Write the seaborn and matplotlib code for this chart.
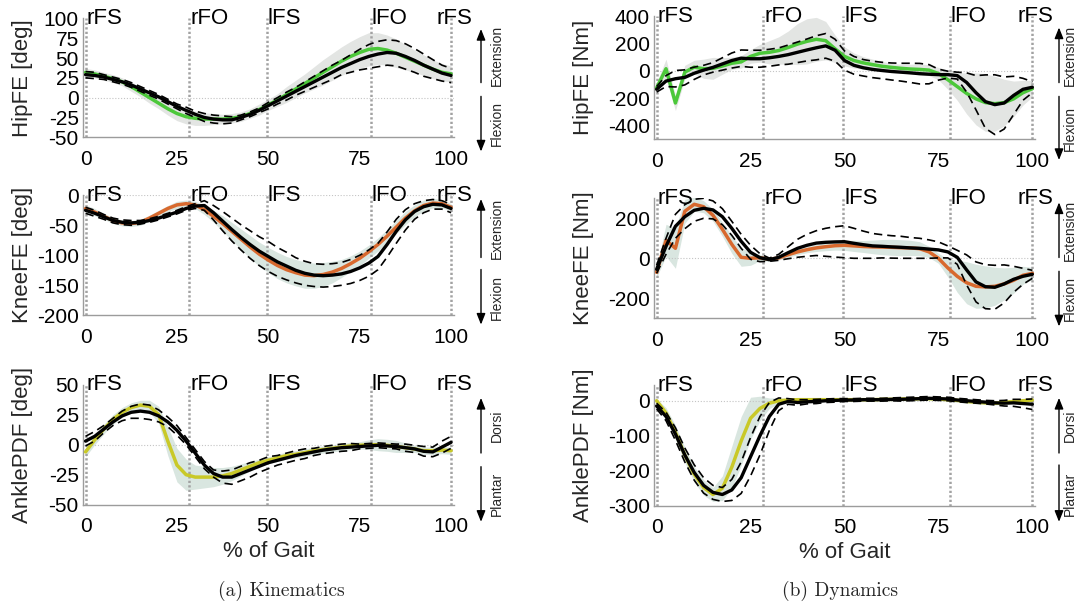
import numpy as np
import pandas as pd
import matplotlib
matplotlib.use("Agg")
import matplotlib.pyplot as plt
import seaborn as sns
from matplotlib.patches import FancyArrowPatch
from matplotlib import font_manager

# ---------------------------------------------------------------------------
# Gait-normalised curves, sampled every 2.5 % of the gait cycle
# ---------------------------------------------------------------------------
gait = np.linspace(0, 100, 41)

events = [0, 28.4, 49.6, 78.0, 100]
event_names = ["rFS", "rFO", "lFS", "lFO", "rFS"]

# Hip flexion/extension angle [deg]
hip_deg_ref = [32, 30, 27, 24, 20, 14, 7, 0, -7, -14, -20, -24, -26, -27, -27, -27, -26, -24, -20, -15,
               -9, -3, 4, 11, 18, 25, 32, 39, 46, 52, 57, 61, 62, 60, 56, 51, 46, 41, 36, 32, 30]
hip_deg_ref_sd = [5, 5, 5, 5, 5, 6, 6, 7, 7, 8, 9, 9, 9, 8, 7, 6, 6, 6, 6, 7,
                  7, 8, 10, 11, 12, 14, 16, 17, 18, 19, 20, 21, 20, 19, 18, 16, 14, 13, 12, 11, 10]
hip_deg_mean = [29, 28, 26, 23, 20, 16, 11, 6, 1, -5, -11, -16, -21, -25, -27, -28, -28, -25, -21, -16,
                -10, -4, 2, 8, 14, 20, 26, 32, 38, 43, 48, 52, 55, 57, 56, 52, 47, 41, 36, 31, 28]
hip_deg_sd = [4, 4, 3, 3, 3, 3, 3, 3, 3, 3, 3, 4, 4, 5, 5, 5, 4, 3, 3, 3,
              4, 4, 5, 5, 6, 7, 8, 9, 9, 11, 13, 15, 16, 16, 16, 16, 15, 14, 12, 10, 9]

# Knee flexion/extension angle [deg]
knee_deg_ref = [-22, -28, -35, -42, -46, -47, -45, -38, -30, -22, -16, -14, -16, -24, -35, -47, -60, -73, -86, -98,
                -108, -117, -124, -129, -133, -134, -132, -128, -122, -114, -105, -94, -82, -68, -53, -38, -26, -17, -13, -14, -20]
knee_deg_ref_sd = [6, 6, 5, 5, 5, 5, 5, 5, 5, 5, 6, 6, 6, 8, 10, 13, 15, 17, 19, 20,
                   21, 22, 22, 22, 22, 21, 20, 18, 15, 13, 12, 11, 11, 11, 11, 11, 10, 9, 8, 7, 6]
knee_deg_mean = [-25, -30, -36, -42, -45, -46, -45, -42, -38, -33, -28, -22, -18, -17, -29, -43, -57, -70, -82, -93,
                 -102, -111, -118, -125, -130, -133, -134, -133, -131, -127, -121, -113, -102, -82, -60, -41, -27, -19, -15, -16, -22]
knee_deg_sd = [5, 5, 4, 4, 4, 4, 3, 3, 3, 3, 3, 3, 4, 8, 12, 16, 19, 21, 23, 24,
               25, 24, 23, 21, 20, 19, 19, 19, 19, 20, 21, 22, 22, 21, 20, 17, 13, 10, 8, 7, 7]

# Ankle plantar/dorsi flexion angle [deg]
ankle_deg_ref = [-6, 4, 13, 21, 27, 31, 33, 32, 25, 3, -17, -25, -27, -27, -27, -26, -24, -21, -18, -15,
                 -13, -11, -9, -8, -6.5, -5, -4, -3, -2, -1, -0.5, 0, 0, -0.5, -1.5, -2.5, -3.5, -5, -5, -4.5, -5]
ankle_deg_ref_sd = [4, 4, 4, 4, 4, 4, 4, 5, 7, 12, 14, 13, 10, 9, 8, 7, 6, 5, 4, 3,
                    3, 3, 3, 3, 3, 3, 3, 3, 3, 3, 3, 4, 5, 5, 5, 4, 3, 3, 3, 3, 3]
ankle_deg_mean = [3, 7, 13, 19, 24, 27, 28, 27, 24, 19, 12, 3, -7, -17, -24, -27, -27, -24, -21, -18,
                  -15, -13, -11, -9, -7.5, -6, -4.5, -3.5, -2.5, -2, -1.5, -1, -0.5, -1, -1.5, -2.5, -3.5, -5.5, -6, -2, 2]
ankle_deg_sd = [4, 4, 3, 3, 4, 5, 6, 6, 5, 4, 4, 3, 3, 3, 3, 5, 6, 6, 6, 5,
                5, 4, 4, 4, 4, 3, 3, 3, 3, 3, 2, 2, 2, 2, 2, 3, 3, 4, 4, 5, 5]

# Hip flexion/extension moment [Nm]
hip_nm_ref = [-125, 15, -235, -10, 27, 15, 18, 35, 55, 65, 105, 128, 135, 148, 170, 195, 215, 230, 220, 160,
              105, 75, 58, 45, 33, 25, 18, 13, 10, 5, -20, -65, -115, -165, -205, -232, -240, -232, -205, -160, -130]
hip_nm_ref_sd = [40, 70, 55, 50, 50, 70, 80, 60, 45, 45, 50, 65, 85, 100, 120, 150, 165, 160, 140, 100,
                 70, 55, 45, 40, 35, 30, 30, 35, 40, 40, 45, 70, 100, 150, 190, 210, 200, 170, 130, 90, 60]
hip_nm_mean = [-135, -75, -58, -48, -18, 5, 25, 50, 75, 92, 88, 88, 95, 105, 118, 135, 152, 168, 182, 150,
               75, 40, 22, 10, 2, -5, -10, -15, -21, -25, -28, -28, -35, -85, -160, -225, -247, -235, -180, -135, -120]
hip_nm_sd = [20, 40, 60, 55, 45, 35, 35, 45, 55, 60, 62, 62, 62, 62, 70, 75, 80, 88, 90, 80,
             70, 65, 60, 60, 60, 62, 65, 70, 75, 70, 40, 25, 25, 70, 125, 195, 218, 190, 140, 80, 40]

# Knee flexion/extension moment [Nm]
knee_nm_ref = [-70, 90, 50, 235, 270, 258, 215, 145, 70, 5, 0, 3, -5, 2, 18, 32, 43, 52, 58, 63,
               65, 62, 59, 57, 56, 55, 53, 52, 48, 32, 0, -48, -90, -122, -140, -143, -140, -128, -110, -85, -75]
knee_nm_ref_sd = [25, 80, 100, 60, 35, 30, 30, 35, 45, 45, 35, 15, 10, 10, 12, 14, 15, 18, 20, 22,
                  25, 28, 30, 34, 38, 40, 40, 38, 35, 28, 25, 45, 80, 105, 110, 105, 95, 80, 65, 45, 30]
knee_nm_mean = [-55, 60, 160, 208, 240, 250, 242, 208, 150, 85, 30, 3, -7, 5, 28, 50, 65, 76, 80, 82,
                83, 75, 68, 62, 60, 57, 55, 52, 50, 46, 42, 32, 5, -58, -118, -142, -145, -128, -105, -90, -80]
knee_nm_sd = [20, 40, 60, 60, 55, 50, 45, 40, 35, 35, 35, 20, 8, 15, 30, 45, 55, 62, 70, 76,
              80, 75, 68, 62, 58, 56, 55, 52, 50, 46, 40, 30, 35, 75, 100, 110, 110, 95, 65, 40, 20]

# Ankle plantar/dorsi flexion moment [Nm]
ankle_nm_ref = [0, -35, -90, -155, -210, -248, -268, -250, -190, -115, -50, -22, -7, 0, 2, 3, 3, 3, 3, 3,
                3, 3, 3, 3, 4, 4, 5, 5, 6, 6, 5, 3, 1, -2, -4, -6, -7, -5, -2, 0, 2]
ankle_nm_ref_sd = [5, 15, 20, 22, 22, 22, 20, 35, 60, 70, 60, 35, 15, 8, 5, 5, 5, 5, 5, 5,
                   5, 5, 5, 5, 5, 5, 5, 5, 5, 5, 5, 5, 5, 5, 5, 5, 5, 5, 5, 5, 5]
ankle_nm_mean = [-15, -45, -95, -155, -205, -242, -262, -268, -255, -220, -160, -100, -45, -10, -2, -5, -3, -2, 0, 1,
                 2, 2, 3, 3, 3, 4, 4, 5, 6, 7, 6, 5, 2, 0, -2, -4, -6, -7, -6, -8, -10]
ankle_nm_sd = [8, 12, 18, 20, 22, 22, 20, 20, 30, 45, 55, 55, 40, 18, 8, 8, 6, 6, 5, 5,
               4, 4, 4, 4, 4, 4, 5, 5, 5, 5, 5, 5, 5, 5, 5, 5, 6, 8, 10, 12, 15]

x_ticks = [0, 25, 50, 75, 100]
hip_deg_ticks = [100, 75, 50, 25, 0, -25, -50]
knee_deg_ticks = [0, -50, -100, -150, -200]
ankle_deg_ticks = [50, 25, 0, -25, -50]
hip_nm_ticks = [400, 200, 0, -200, -400]
knee_nm_ticks = [200, 0, -200]
ankle_nm_ticks = [0, -100, -200, -300]

# ---------------------------------------------------------------------------
# Style
# ---------------------------------------------------------------------------
sns.set_theme(style="white")
plt.rcParams["font.family"] = ["Liberation Sans", "DejaVu Sans"]
plt.rcParams["axes.unicode_minus"] = False

installed = {f.name for f in font_manager.fontManager.ttflist}
if "Liberation Sans Narrow" in installed:
    side_family, side_size = "Liberation Sans Narrow", 12
else:
    side_family, side_size = "Liberation Sans", 10

GREEN = "#4cc83a"
ORANGE = "#d8692e"
YELLOW = "#c9c928"
BAND_GREY = "#e3e5e3"
BAND_MINT = "#d9e6e0"
SPINE = "#9c9c9c"

W, H = 1079, 607
fig = plt.figure(figsize=(W / 100, H / 100), dpi=100)


def px_rect(left, right, top, bottom):
    return [left / W, 1 - bottom / H, (right - left) / W, (bottom - top) / H]


panels = [
    # left column: kinematics
    dict(rect=px_rect(83, 454, 18.4, 137.3), xlim=(-0.7, 100.8), ylim=(-50, 100), yticks=hip_deg_ticks,
         ylabel="HipFE [deg]", ref=hip_deg_ref, ref_sd=hip_deg_ref_sd, mean=hip_deg_mean, sd=hip_deg_sd,
         color=GREEN, band=BAND_GREY, side=("Extension", "Flexion"), xlabel=False,
         arrow_x=481, up=(82.6, 29), down=(96.4, 151.5), text_x=497, lab_x=-0.135),
    dict(rect=px_rect(83, 454, 195.3, 315.3), xlim=(-0.7, 100.8), ylim=(-200, 0), yticks=knee_deg_ticks,
         ylabel="KneeFE [deg]", ref=knee_deg_ref, ref_sd=knee_deg_ref_sd, mean=knee_deg_mean, sd=knee_deg_sd,
         color=ORANGE, band=BAND_MINT, side=("Extension", "Flexion"), xlabel=False,
         arrow_x=481, up=(257.5, 199), down=(269.5, 324.6), text_x=497, lab_x=-0.135),
    dict(rect=px_rect(83, 454, 384.7, 504.7), xlim=(-0.7, 100.8), ylim=(-50, 50), yticks=ankle_deg_ticks,
         ylabel="AnklePDF [deg]", ref=ankle_deg_ref, ref_sd=ankle_deg_ref_sd, mean=ankle_deg_mean, sd=ankle_deg_sd,
         color=YELLOW, band=BAND_MINT, side=("Dorsi", "Plantar"), xlabel=True,
         arrow_x=481, up=(453, 397.9), down=(466.7, 521.8), text_x=497, lab_x=-0.135),
    # right column: dynamics
    dict(rect=px_rect(654, 1035, 16, 139.3), xlim=(-0.7, 100.7), ylim=(-500, 400), yticks=hip_nm_ticks,
         ylabel="HipFE [Nm]", ref=hip_nm_ref, ref_sd=hip_nm_ref_sd, mean=hip_nm_mean, sd=hip_nm_sd,
         color=GREEN, band=BAND_GREY, side=("Extension", "Flexion"), xlabel=False,
         arrow_x=1059, up=(82.6, 27.5), down=(96.4, 160), text_x=1070, lab_x=-0.158),
    dict(rect=px_rect(654, 1035, 198.3, 318.3), xlim=(-0.7, 100.7), ylim=(-300, 300), yticks=knee_nm_ticks,
         ylabel="KneeFE [Nm]", ref=knee_nm_ref, ref_sd=knee_nm_ref_sd, mean=knee_nm_mean, sd=knee_nm_sd,
         color=ORANGE, band=BAND_MINT, side=("Extension", "Flexion"), xlabel=False,
         arrow_x=1059, up=(257.5, 202.4), down=(271.3, 326.4), text_x=1070, lab_x=-0.158),
    dict(rect=px_rect(654, 1035, 385, 505.7), xlim=(-0.7, 100.7), ylim=(-300, 45), yticks=ankle_nm_ticks,
         ylabel="AnklePDF [Nm]", ref=ankle_nm_ref, ref_sd=ankle_nm_ref_sd, mean=ankle_nm_mean, sd=ankle_nm_sd,
         color=YELLOW, band=BAND_MINT, side=("Dorsi", "Plantar"), xlabel=True,
         arrow_x=1059, up=(453, 397.9), down=(465, 521.8), text_x=1070, lab_x=-0.158),
]


def fig_xy(x_px, y_px):
    return (x_px / W, 1 - y_px / H)


for p in panels:
    ax = fig.add_axes(p["rect"])
    df = pd.DataFrame({
        "gait": gait,
        "ref": p["ref"], "ref_sd": p["ref_sd"],
        "mean": p["mean"], "sd": p["sd"],
    })
    df["ref_lo"] = df["ref"] - df["ref_sd"]
    df["ref_hi"] = df["ref"] + df["ref_sd"]
    df["lo"] = df["mean"] - df["sd"]
    df["hi"] = df["mean"] + df["sd"]

    # reference corridor
    ax.fill_between(df["gait"], df["ref_lo"], df["ref_hi"], color=p["band"], lw=0, zorder=1)

    # zero line and gait events
    ax.axhline(0, color="#c4c4c4", lw=0.8, ls=(0, (1, 1.6)), zorder=1.3)
    ytop = p["ylim"][1]
    for i, (xe, name) in enumerate(zip(events, event_names)):
        ax.axvline(xe, color="#a2a2a2", lw=1.8, ls=(0, (0.9, 0.9)), zorder=1.5)
        tx = xe + 0.3 if i < len(events) - 1 else 96.0
        ax.text(tx, ytop, name, ha="left", va="center", fontsize=16, color="black",
                zorder=1.6, clip_on=False)

    # reference mean, subject mean and +/- one standard deviation
    sns.lineplot(data=df, x="gait", y="ref", ax=ax, color=p["color"], lw=2.5, zorder=3)
    for col in ("lo", "hi"):
        sns.lineplot(data=df, x="gait", y=col, ax=ax, color="black", lw=1.2,
                     linestyle=(0, (5, 3)), zorder=3.5)
    sns.lineplot(data=df, x="gait", y="mean", ax=ax, color="black", lw=2.4, zorder=4)

    ax.set_xlim(*p["xlim"])
    ax.set_ylim(*p["ylim"])
    ax.set_xticks(x_ticks)
    ax.set_yticks(p["yticks"])
    ax.tick_params(axis="both", direction="in", length=3, width=0.8, color=SPINE,
                   labelsize=15, colors="black")
    ax.tick_params(axis="x", pad=9)
    ax.tick_params(axis="y", pad=3)
    for s in ("top", "right"):
        ax.spines[s].set_visible(False)
    for s in ("left", "bottom"):
        ax.spines[s].set_color(SPINE)
        ax.spines[s].set_linewidth(1.0)

    ax.set_ylabel(p["ylabel"], fontsize=16)
    ax.yaxis.set_label_coords(p["lab_x"], 0.5)
    if p["xlabel"]:
        ax.set_xlabel("% of Gait", fontsize=16)
        ax.xaxis.set_label_coords(0.5, -0.30)
    else:
        ax.set_xlabel("")

    # direction arrows with their meaning at the right of each row
    for (y0, y1), label in zip((p["up"], p["down"]), p["side"]):
        arr = FancyArrowPatch(fig_xy(p["arrow_x"], y0), fig_xy(p["arrow_x"], y1),
                              transform=fig.transFigure, arrowstyle="-|>,head_length=0.55,head_width=0.22",
                              mutation_scale=12, lw=1.0, color="black", shrinkA=0, shrinkB=0)
        fig.add_artist(arr)
        fig.text(p["text_x"] / W, 1 - ((y0 + y1) / 2) / H, label, rotation=90,
                 ha="center", va="center", fontsize=side_size, family=side_family)

# sub-figure captions
fig.text(281 / W, 1 - 591 / H, "(a) Kinematics", ha="center", va="center",
         family="cmr10", fontsize=14)
fig.text(840 / W, 1 - 591 / H, "(b) Dynamics", ha="center", va="center",
         family="cmr10", fontsize=14)

fig.savefig("out.png", dpi=100)
